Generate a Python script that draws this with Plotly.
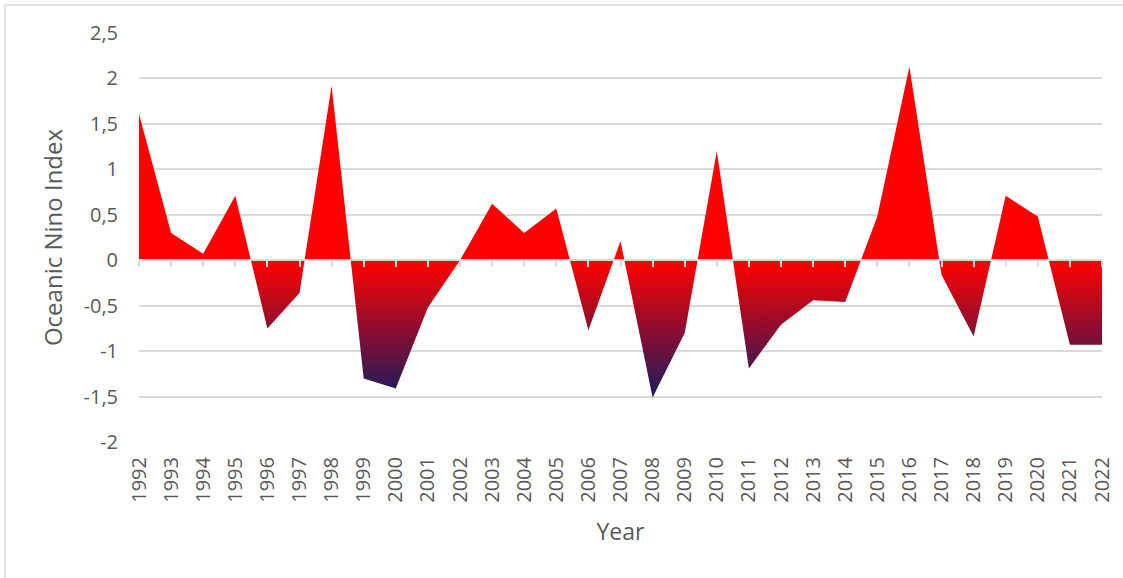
import plotly.graph_objects as go

# Oceanic Nino Index, yearly values
years = list(range(1992, 2023))
oni = [1.61, 0.30, 0.07, 0.71, -0.75, -0.36, 1.92, -1.30, -1.41, -0.52,
       0.00, 0.62, 0.30, 0.57, -0.77, 0.21, -1.51, -0.80, 1.20, -1.19,
       -0.71, -0.44, -0.46, 0.48, 2.13, -0.16, -0.84, 0.71, 0.48, -0.93,
       -0.93]

y_tick_values = [-2, -1.5, -1, -0.5, 0, 0.5, 1, 1.5, 2, 2.5]
y_tick_labels = ["-2", "-1,5", "-1", "-0,5", "0", "0,5", "1", "1,5", "2", "2,5"]

W, H = 1123, 578
ML, MR, MT, MB = 139, 21, 33, 136
Y_MIN, Y_MAX = -2, 2.5

FONT = "'Open Sans', Lato, sans-serif"
TEXT = "#595959"
GRID = "#d9d9d9"

lo, hi = min(oni), max(oni)
zero_frac = (0 - lo) / (hi - lo)

fig = go.Figure()
fig.add_trace(go.Scatter(
    x=years, y=oni, mode="lines", line=dict(width=0, color="#ff0000"),
    fill="tozeroy",
    fillgradient=dict(
        type="vertical",
        start=lo, stop=hi,
        colorscale=[[0, "#1b1b5e"], [zero_frac, "#ff0000"], [1, "#ff0000"]],
    ),
    hoverinfo="x+y", showlegend=False,
))
# helper trace so the zero-level category axis is drawn
fig.add_trace(go.Scatter(x=years, y=[None] * len(years), xaxis="x2",
                         showlegend=False, hoverinfo="skip"))

fig.update_layout(
    width=W, height=H,
    margin=dict(l=ML, r=MR, t=MT, b=MB, autoexpand=False),
    paper_bgcolor="white", plot_bgcolor="white",
    font=dict(family=FONT, color=TEXT, size=20),
    xaxis=dict(
        range=[years[0], years[-1]], tickmode="array", tickvals=years,
        ticktext=[str(y) for y in years], tickangle=-90,
        showgrid=False, zeroline=False, showline=False, ticks="",
        ticklabelstandoff=10, automargin=False,
        title=dict(text="Year", font=dict(size=23, color=TEXT), standoff=22),
    ),
    xaxis2=dict(
        overlaying="x", matches="x", anchor="free",
        position=(0 - Y_MIN) / (Y_MAX - Y_MIN),
        range=[years[0], years[-1]], tickmode="array", tickvals=years,
        showticklabels=False, showgrid=False, zeroline=False,
        showline=True, linecolor=GRID, linewidth=1.5,
        ticks="outside", ticklen=6, tickwidth=1.5, tickcolor=GRID,
        layer="above traces", automargin=False,
    ),
    yaxis=dict(
        range=[Y_MIN, Y_MAX], tickmode="array", tickvals=y_tick_values,
        ticktext=y_tick_labels, showgrid=True, gridcolor=GRID, gridwidth=1.5,
        zeroline=False, showline=False, ticks="", ticklabelstandoff=20,
        automargin=False,
        title=dict(text="Oceanic Nino Index", font=dict(size=24, color=TEXT),
                   standoff=14),
    ),
)

# chart-area border (top and left edges)
px_w = W - ML - MR
px_h = H - MT - MB
bx = (5 - ML) / px_w
by = (H - MB - 5) / px_h
fig.add_shape(type="line", xref="paper", yref="paper", x0=bx, x1=(W - ML) / px_w,
              y0=by, y1=by, line=dict(color=GRID, width=1.5))
fig.add_shape(type="line", xref="paper", yref="paper", x0=bx, x1=bx,
              y0=by, y1=-(MB + 10) / px_h, line=dict(color=GRID, width=1.5))

fig.write_html("out.html")
